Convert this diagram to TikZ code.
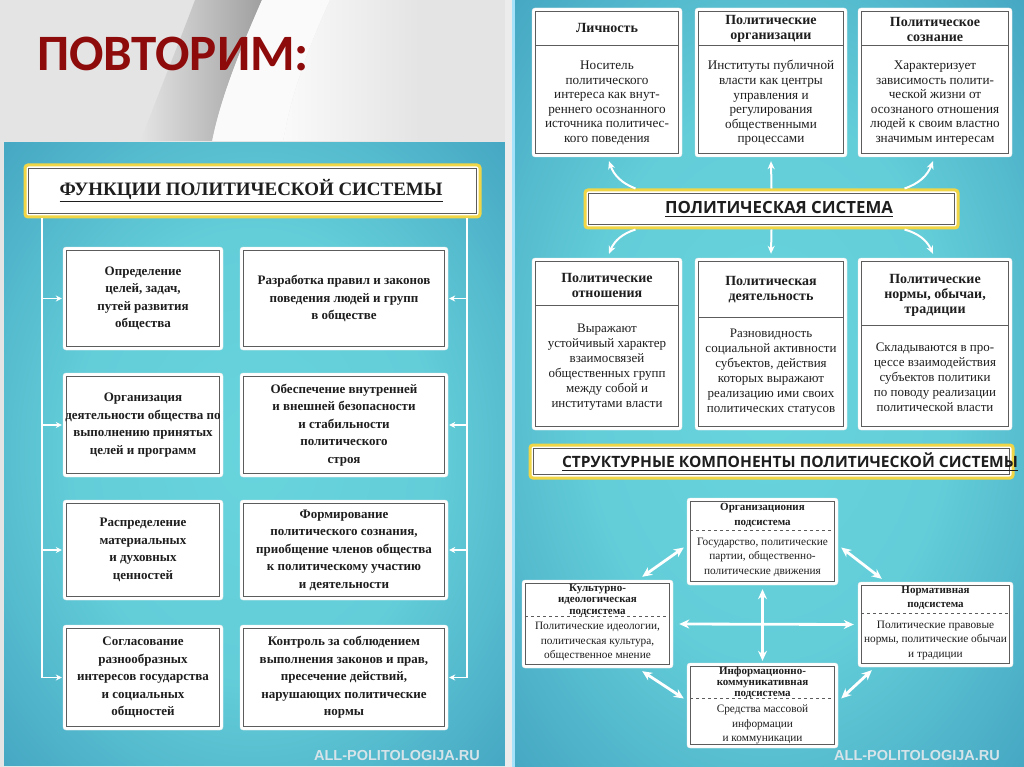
\documentclass[tikz,border=0pt]{standalone}
\usepackage{fontspec}
\setmainfont{Liberation Serif}
\newfontfamily\carl{Carlito}
\newfontfamily\osans{Open Sans}
\newfontfamily\lsans{Liberation Sans}
\usetikzlibrary{arrows.meta,calc}
\definecolor{titlered}{HTML}{8E0B0B}
\definecolor{frameg}{HTML}{5C5C5C}
\definecolor{ybord}{HTML}{F0D646}
\definecolor{txt}{HTML}{1E1E1E}
\definecolor{pc}{HTML}{68D4DC}
\definecolor{pm}{HTML}{45A6C2}
\definecolor{po}{HTML}{2D6190}
\definecolor{wm}{HTML}{D6E4EA}
\definecolor{bgg}{HTML}{E4E4E4}
\pgfdeclareradialshading{panelshade}{\pgfpoint{0bp}{0bp}}{color(0bp)=(pc); color(18bp)=(pc!85!pm); color(36bp)=(pm); color(50bp)=(po)}
\newcommand\hdiv[3][solid]{\draw[frameg,line width=0.9pt,#1] ([xshift=3.5pt]#2.west |- 0,#3) -- ([xshift=-3.5pt]#2.east |- 0,#3);}
\tikzset{
  framed/.style={path picture={\draw[frameg,line width=1.1pt,sharp corners]
      ([shift={(3.5pt,-3.5pt)}]path picture bounding box.north west) rectangle
      ([shift={(-3.5pt,3.5pt)}]path picture bounding box.south east);}},
  wbox/.style={fill=white, draw=white!92!black, line width=0.4pt, rounded corners=3pt, inner sep=0pt, framed},
  ybox/.style={fill=white, draw=ybord, line width=3pt, rounded corners=3pt, inner sep=0pt, framed},
  ftext/.style={wbox, align=center, text=txt, font=\fontsize{13}{17.5}\selectfont\bfseries},
  hd/.style={align=center, text=txt, inner sep=0pt, font=\fontsize{14}{15}\selectfont\bfseries},
  bd/.style={align=center, text=txt, inner sep=0pt, font=\fontsize{13.2}{14.6}\selectfont},
  bd2/.style={align=center, text=txt, inner sep=0pt, font=\fontsize{13}{15}\selectfont},
  shd/.style={align=center, text=txt, inner sep=0pt, font=\fontsize{11}{#1}\selectfont\bfseries},
  sbd/.style={align=center, text=txt, inner sep=0pt, font=\fontsize{11.3}{14.5}\selectfont},
  wline/.style={white, line width=1.6pt},
  warr/.style={white, line width=1.6pt, -{Stealth[length=6pt,width=6pt]}},
  parr/.style={white, line width=2pt, -{Stealth[length=8pt,width=7pt]}},
  darr/.style={white, line width=2.8pt, {Stealth[length=10pt,width=9pt]}-{Stealth[length=10pt,width=9pt]}},
  wmark/.style={text=wm, inner sep=0pt, font=\lsans\bfseries\fontsize{14.5}{14.5}\selectfont}
}
\begin{document}
\begin{tikzpicture}[x=1pt,y=-1pt]
\useasboundingbox (0,0) rectangle (1024,767);
% slide background
\fill[bgg] (0,0) rectangle (1024,767);
\shade[left color=bgg, right color=gray!75] (140,142) .. controls (160,90) and (180,40) .. (195,0) -- (262,0) .. controls (240,50) and (220,100) .. (212,142) -- cycle;
\fill[white!96!gray] (212,142) .. controls (220,100) and (240,50) .. (262,0) -- (330,0) .. controls (305,55) and (290,100) .. (283,142) -- cycle;
\draw[gray!55, line width=1.5pt] (348,0) .. controls (335,50) and (320,100) .. (312,142);
\shade[left color=white!96!gray, right color=bgg] (283,142) .. controls (290,100) and (305,55) .. (330,0) -- (420,0) -- (420,142) -- cycle;
\node[font=\carl\bfseries\fontsize{51}{51}\selectfont, text=titlered, anchor=west, inner sep=0pt] (ttl) at (37,54) {ПОВТОРИМ:};

% ===== left panel =====
\shade[shading=panelshade] (3,142) rectangle (505,766);
\draw[white!80!gray, line width=1pt] (3,142) rectangle (505,766);
\node[ybox, minimum width=455, minimum height=52] (t1) at (252.5,191) {};
\node[inner sep=0pt, text=txt, font=\bfseries] (t1t) at (251,191) {\resizebox{383pt}{!}{\underline{ФУНКЦИИ ПОЛИТИЧЕСКОЙ СИСТЕМЫ}}};

\node[ftext, minimum width=160, minimum height=103] (f1) at (143,298.5) {Определение\\ целей, задач,\\ путей развития\\ общества};
\node[ftext, minimum width=208, minimum height=103] (f2) at (344,298.5) {Разработка правил и законов\\ поведения людей и групп\\ в обществе};
\node[ftext, minimum width=160, minimum height=104] (f3) at (143,425) {Организация\\ деятельности общества по\\ выполнению принятых\\ целей и программ};
\node[ftext, minimum width=208, minimum height=104] (f4) at (344,425) {Обеспечение внутренней\\ и внешней безопасности\\ и стабильности\\ политического\\ строя};
\node[ftext, minimum width=160, minimum height=100] (f5) at (143,550) {Распределение\\ материальных\\ и духовных\\ ценностей};
\node[ftext, minimum width=208, minimum height=100] (f6) at (344,550) {Формирование\\ политического сознания,\\ приобщение членов общества\\ к политическому участию\\ и деятельности};
\node[ftext, minimum width=160, minimum height=105] (f7) at (143,677.5) {Согласование\\ разнообразных\\ интересов государства\\ и социальных\\ общностей};
\node[ftext, minimum width=208, minimum height=105] (f8) at (344,677.5) {Контроль за соблюдением\\ выполнения законов и прав,\\ пресечение действий,\\ нарушающих политические\\ нормы};

\coordinate (LL) at (42,0);
\coordinate (RL) at (467,0);
\draw[wline] (t1.south -| LL) -- (LL |- f7.west) -- ([xshift=-8pt]f7.west);
\draw[wline] (t1.south -| RL) -- (RL |- f8.east) -- ([xshift=8pt]f8.east);
\foreach \n in {f1,f3,f5,f7} \draw[warr] (LL |- \n.west) -- ([xshift=-1pt]\n.west);
\foreach \n in {f2,f4,f6,f8} \draw[warr] (RL |- \n.east) -- ([xshift=1pt]\n.east);
\node[wmark] (wm1) at (397,755) {ALL-POLITOLOGIJA.RU};

% ===== right panel =====
\fill[white!85!gray] (505,0) rectangle (512,767);
\shade[shading=panelshade] (512,0) rectangle (1024,767);
\fill[cyan!35!white] (512,0) rectangle (514.5,767);

% top row
\node[wbox, minimum width=150, minimum height=149] (b1) at (607,82.5) {};
\node[wbox, minimum width=152, minimum height=149] (b2) at (771,82.5) {};
\node[wbox, minimum width=154, minimum height=149] (b3) at (935,82.5) {};
\hdiv{b1}{45}\hdiv{b2}{45}\hdiv{b3}{45}
\node[hd] (b1h) at (607,28) {Личность};
\node[hd] (b2h) at (771,29) {Политические\\ организации};
\node[hd] (b3h) at (935,29) {Политическое\\ сознание};
\node[bd] (b1b) at (607,103) {Носитель\\ политического\\ интереса как внут-\\ реннего осознанного\\ источника политичес-\\ кого поведения};
\node[bd] (b2b) at (771,103) {Институты публичной\\ власти как центры\\ управления и\\ регулирования\\ общественными\\ процессами};
\node[bd] (b3b) at (935,103) {Характеризует\\ зависимость полити-\\ ческой жизни от\\ осознаного отношения\\ людей к своим властно\\ значимым интересам};

% political system box
\node[ybox, minimum width=373, minimum height=38] (ps) at (771.5,209) {};
\node[inner sep=0pt, text=txt, font=\osans\bfseries] (pst) at (779,209) {\resizebox{228pt}{!}{\underline{ПОЛИТИЧЕСКАЯ СИСТЕМА}}};

% middle row
\node[wbox, minimum width=150, minimum height=172] (m1) at (607,344) {};
\node[wbox, minimum width=152, minimum height=172] (m2) at (771,344) {};
\node[wbox, minimum width=154, minimum height=172] (m3) at (935,344) {};
\hdiv{m1}{305}\hdiv{m2}{317}\hdiv{m3}{325}
\node[hd] (m1h) at (607,285) {Политические\\ отношения};
\node[hd] (m2h) at (771,290) {Политическая\\ деятельность};
\node[hd] (m3h) at (935,295) {Политические\\ нормы, обычаи,\\ традиции};
\node[bd2] (m1b) at (607,367.5) {Выражают\\ устойчивый характер\\ взаимосвязей\\ общественных групп\\ между собой и\\ институтами власти};
\node[bd2] (m2b) at (771,372.5) {Разновидность\\ социальной активности\\ субъектов, действия\\ которых выражают\\ реализацию ими своих\\ политических статусов};
\node[bd2] (m3b) at (935,377.5) {Складываются в про-\\ цессе взаимодействия\\ субъектов политики\\ по поводу реализации\\ политической власти};

% arrows around political system
\draw[parr] ($(ps.north west)+(52,0)$) to[bend left=25] ($(b1.south)+(2,4)$);
\draw[parr] (ps.north) -- ([yshift=-4pt]b2.south);
\draw[parr] ($(ps.north east)+(-55,0)$) to[bend right=25] ($(b3.south)+(-2,4)$);
\draw[parr] ($(ps.south west)+(52,0)$) to[bend right=25] ($(m1.north)+(2,-4)$);
\draw[parr] (ps.south) -- ([yshift=4pt]m2.north);
\draw[parr] ($(ps.south east)+(-55,0)$) to[bend left=25] ($(m3.north)+(-2,-4)$);

% structural components title
\node[ybox, minimum width=483, minimum height=33] (sc) at (771.5,461.5) {};
\node[inner sep=0pt, text=txt, font=\osans\bfseries] (sct) at (790,462) {\resizebox{456pt}{!}{\underline{СТРУКТУРНЫЕ КОМПОНЕНТЫ ПОЛИТИЧЕСКОЙ СИСТЕМЫ}}};

% subsystems
\node[wbox, minimum width=151, minimum height=87] (org) at (762.5,541.5) {};
\node[wbox, minimum width=151, minimum height=88] (kult) at (597.5,624) {};
\node[wbox, minimum width=155, minimum height=85] (norm) at (935.5,624.5) {};
\node[wbox, minimum width=151, minimum height=85] (inf) at (762.5,705.5) {};
\hdiv[dashed]{org}{530}\hdiv[dashed]{kult}{616}\hdiv[dashed]{norm}{613}\hdiv[dashed]{inf}{698}
\node[shd=15] (orgh) at (762.5,515.5) {Организациония\\ подсистема};
\node[sbd] (orgb) at (762.5,557) {Государство, политические\\ партии, общественно-\\ политические движения};
\node[shd=11.5] (kulth) at (597.5,600) {Культурно-\\ идеологическая\\ подсистема};
\node[sbd] (kultb) at (597.5,641.5) {Политические идеологии,\\ политическая культура,\\ общественное мнение};
\node[shd=14.5] (normh) at (935.5,598) {Нормативная\\ подсистема};
\node[sbd] (normb) at (935.5,640) {Политические правовые\\ нормы, политические обычаи\\ и традиции};
\node[shd=11] (infh) at (762.5,683) {Информационно-\\ коммуникативная\\ подсистема};
\node[sbd] (infb) at (762.5,724.5) {Средства массовой\\ информации\\ и коммуникации};

\draw[darr] ([xshift=-3pt,yshift=-6pt]org.west) -- ($(kult.north east)+(-31,-3)$);
\draw[darr] ([xshift=3pt,yshift=-6pt]org.east) -- ($(norm.north west)+(24,-3)$);
\draw[darr] ($(kult.south east)+(-31,3)$) -- ([xshift=-3pt,yshift=7pt]inf.west);
\draw[darr] ($(norm.south west)+(14,3)$) -- ([xshift=3pt,yshift=7pt]inf.east);
\draw[darr] ([xshift=6pt]kult.east) -- ([xshift=-4pt]norm.west);
\draw[darr] ([yshift=-4pt]org.south) -- ([yshift=2pt]inf.north);

\node[wmark] (wm2) at (917,755) {ALL-POLITOLOGIJA.RU};
\end{tikzpicture}
\end{document}
